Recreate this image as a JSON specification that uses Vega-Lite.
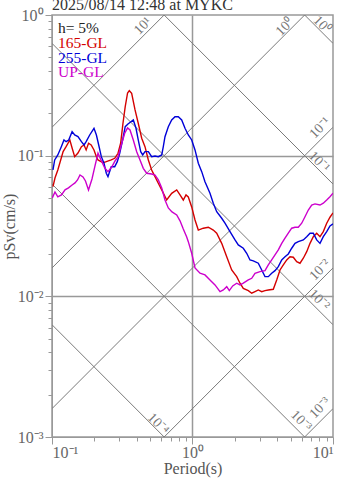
{
"$schema": "https://vega.github.io/schema/vega-lite/v6.json",
"width": 281, "height": 422,
"autosize": "none",
"padding": {"left": 52, "top": 15, "right": 14, "bottom": 41},
"title": {"text": "2025/08/14 12:48 at MYKC", "anchor": "start", "frame": "group", "fontSize": 16, "font": "Liberation Serif", "fontWeight": "normal", "color": "#333333", "offset": 0, "baseline": "alphabetic", "dy": 19},
"config": {
  "font": "Liberation Serif",
  "view": {"stroke": "#999999", "strokeWidth": 1.5},
  "axis": {"domainColor": "#999999", "tickColor": "#999999", "labelColor": "#666666", "titleColor": "#555555", "labelFont": "Liberation Serif", "titleFont": "Liberation Serif", "titleFontWeight": "normal", "labelFontSize": 16, "titleFontSize": 16, "labelOverlap": false, "labelBound": false}
},
"datasets": {
  "diag": [
    {"id": "SA10", "T": 0.1, "Sv": 0.15915}, {"id": "SA10", "T": 10, "Sv": 15.915},
    {"id": "SA1", "T": 0.1, "Sv": 0.015915}, {"id": "SA1", "T": 10, "Sv": 1.5915},
    {"id": "SA0.1", "T": 0.1, "Sv": 0.0015915}, {"id": "SA0.1", "T": 10, "Sv": 0.15915},
    {"id": "SA0.01", "T": 0.1, "Sv": 0.00015915}, {"id": "SA0.01", "T": 10, "Sv": 0.015915},
    {"id": "SA0.001", "T": 0.1, "Sv": 0.000015915}, {"id": "SA0.001", "T": 10, "Sv": 0.0015915},
    {"id": "SD1", "T": 0.1, "Sv": 62.832}, {"id": "SD1", "T": 10, "Sv": 0.62832},
    {"id": "SD0.1", "T": 0.1, "Sv": 6.2832}, {"id": "SD0.1", "T": 10, "Sv": 0.062832},
    {"id": "SD0.01", "T": 0.1, "Sv": 0.62832}, {"id": "SD0.01", "T": 10, "Sv": 0.0062832},
    {"id": "SD0.001", "T": 0.1, "Sv": 0.062832}, {"id": "SD0.001", "T": 10, "Sv": 0.00062832},
    {"id": "SD0.0001", "T": 0.1, "Sv": 0.0062832}, {"id": "SD0.0001", "T": 10, "Sv": 0.000062832}
  ],
  "lab": [
    {"fam": "SA", "t": "10¹", "T": 0.444, "Sv": 0.835},
    {"fam": "SA", "t": "10⁰", "T": 4.553, "Sv": 0.822},
    {"fam": "SA", "t": "10⁻¹", "T": 8.081, "Sv": 0.1574},
    {"fam": "SA", "t": "10⁻²", "T": 8.081, "Sv": 0.0154},
    {"fam": "SA", "t": "10⁻³", "T": 8.081, "Sv": 0.00161},
    {"fam": "SD", "t": "10⁰", "T": 8.35, "Sv": 0.849},
    {"fam": "SD", "t": "10⁻¹", "T": 7.95, "Sv": 0.0902},
    {"fam": "SD", "t": "10⁻²", "T": 7.95, "Sv": 0.00943},
    {"fam": "SD", "t": "10⁻³", "T": 5.919, "Sv": 0.0013},
    {"fam": "SD", "t": "10⁻⁴", "T": 0.568, "Sv": 0.00124}
  ],
  "leg": [
    {"c": "h", "t": "h= 5%", "T": 0.1103, "Sv": 0.745},
    {"c": "165-GL", "t": "165-GL", "T": 0.1103, "Sv": 0.5857},
    {"c": "255-GL", "t": "255-GL", "T": 0.1103, "Sv": 0.4536},
    {"c": "UP-GL", "t": "UP-GL", "T": 0.1103, "Sv": 0.3607}
  ],
  "spec": [
    {"c":"165-GL","T":0.1016,"Sv":0.0602},{"c":"165-GL","T":0.105,"Sv":0.0694},{"c":"165-GL","T":0.110,"Sv":0.0791},{"c":"165-GL","T":0.120,"Sv":0.1068},{"c":"165-GL","T":0.126,"Sv":0.1159},{"c":"165-GL","T":0.134,"Sv":0.1293},{"c":"165-GL","T":0.139,"Sv":0.1134},{"c":"165-GL","T":0.145,"Sv":0.0984},{"c":"165-GL","T":0.153,"Sv":0.1045},{"c":"165-GL","T":0.162,"Sv":0.1159},{"c":"165-GL","T":0.169,"Sv":0.1191},{"c":"165-GL","T":0.175,"Sv":0.1098},{"c":"165-GL","T":0.182,"Sv":0.1225},{"c":"165-GL","T":0.190,"Sv":0.1191},{"c":"165-GL","T":0.199,"Sv":0.1098},{"c":"165-GL","T":0.207,"Sv":0.0984},{"c":"165-GL","T":0.2125,"Sv":0.0932},{"c":"165-GL","T":0.231,"Sv":0.0892},{"c":"165-GL","T":0.2435,"Sv":0.0906},{"c":"165-GL","T":0.264,"Sv":0.0932},{"c":"165-GL","T":0.2795,"Sv":0.0958},{"c":"165-GL","T":0.295,"Sv":0.1040},{"c":"165-GL","T":0.308,"Sv":0.1225},{"c":"165-GL","T":0.320,"Sv":0.1699},{"c":"165-GL","T":0.332,"Sv":0.2230},{"c":"165-GL","T":0.345,"Sv":0.2790},{"c":"165-GL","T":0.355,"Sv":0.2897},{"c":"165-GL","T":0.369,"Sv":0.2777},{"c":"165-GL","T":0.390,"Sv":0.2113},{"c":"165-GL","T":0.411,"Sv":0.1699},{"c":"165-GL","T":0.435,"Sv":0.1330},{"c":"165-GL","T":0.459,"Sv":0.1159},{"c":"165-GL","T":0.485,"Sv":0.0932},{"c":"165-GL","T":0.512,"Sv":0.0791},{"c":"165-GL","T":0.541,"Sv":0.0709},{"c":"165-GL","T":0.571,"Sv":0.0637},{"c":"165-GL","T":0.604,"Sv":0.0571},{"c":"165-GL","T":0.655,"Sv":0.0484},{"c":"165-GL","T":0.711,"Sv":0.0540},{"c":"165-GL","T":0.772,"Sv":0.0571},{"c":"165-GL","T":0.815,"Sv":0.0526},{"c":"165-GL","T":0.860,"Sv":0.0484},{"c":"165-GL","T":0.899,"Sv":0.0526},{"c":"165-GL","T":0.9335,"Sv":0.0509},{"c":"165-GL","T":0.987,"Sv":0.0432},{"c":"165-GL","T":1.042,"Sv":0.0349},{"c":"165-GL","T":1.100,"Sv":0.0296},{"c":"165-GL","T":1.194,"Sv":0.0305},{"c":"165-GL","T":1.296,"Sv":0.0310},{"c":"165-GL","T":1.406,"Sv":0.0296},{"c":"165-GL","T":1.487,"Sv":0.0281},{"c":"165-GL","T":1.614,"Sv":0.0238},{"c":"165-GL","T":1.752,"Sv":0.0191},{"c":"165-GL","T":1.901,"Sv":0.0154},{"c":"165-GL","T":2.064,"Sv":0.0138},{"c":"165-GL","T":2.178,"Sv":0.0124},{"c":"165-GL","T":2.299,"Sv":0.0114},{"c":"165-GL","T":2.496,"Sv":0.01098},{"c":"165-GL","T":2.639,"Sv":0.01052},{"c":"165-GL","T":2.785,"Sv":0.0108},{"c":"165-GL","T":2.940,"Sv":0.0111},{"c":"165-GL","T":3.109,"Sv":0.0108},{"c":"165-GL","T":3.281,"Sv":0.01098},{"c":"165-GL","T":3.464,"Sv":0.0111},{"c":"165-GL","T":3.759,"Sv":0.01123},{"c":"165-GL","T":3.974,"Sv":0.01308},{"c":"165-GL","T":4.196,"Sv":0.0154},{"c":"165-GL","T":4.430,"Sv":0.01672},{"c":"165-GL","T":4.684,"Sv":0.01814},{"c":"165-GL","T":4.943,"Sv":0.0191},{"c":"165-GL","T":5.217,"Sv":0.01896},{"c":"165-GL","T":5.516,"Sv":0.01764},{"c":"165-GL","T":5.823,"Sv":0.01719},{"c":"165-GL","T":6.147,"Sv":0.01866},{"c":"165-GL","T":6.500,"Sv":0.02078},{"c":"165-GL","T":6.861,"Sv":0.0238},{"c":"165-GL","T":7.242,"Sv":0.02656},{"c":"165-GL","T":7.656,"Sv":0.0281},{"c":"165-GL","T":8.081,"Sv":0.02656},{"c":"165-GL","T":8.531,"Sv":0.02884},{"c":"165-GL","T":9.020,"Sv":0.0331},{"c":"165-GL","T":9.519,"Sv":0.0365},{"c":"165-GL","T":10.0,"Sv":0.0392},
    {"c":"255-GL","T":0.1016,"Sv":0.0791},{"c":"255-GL","T":0.1045,"Sv":0.0932},{"c":"255-GL","T":0.110,"Sv":0.1012},{"c":"255-GL","T":0.1165,"Sv":0.1159},{"c":"255-GL","T":0.1217,"Sv":0.1293},{"c":"255-GL","T":0.126,"Sv":0.1257},{"c":"255-GL","T":0.1315,"Sv":0.1293},{"c":"255-GL","T":0.139,"Sv":0.1481},{"c":"255-GL","T":0.145,"Sv":0.1403},{"c":"255-GL","T":0.153,"Sv":0.1365},{"c":"255-GL","T":0.162,"Sv":0.1257},{"c":"255-GL","T":0.169,"Sv":0.1191},{"c":"255-GL","T":0.175,"Sv":0.1257},{"c":"255-GL","T":0.1855,"Sv":0.1403},{"c":"255-GL","T":0.199,"Sv":0.1566},{"c":"255-GL","T":0.207,"Sv":0.1403},{"c":"255-GL","T":0.215,"Sv":0.1191},{"c":"255-GL","T":0.2244,"Sv":0.0984},{"c":"255-GL","T":0.2345,"Sv":0.0883},{"c":"255-GL","T":0.2435,"Sv":0.0750},{"c":"255-GL","T":0.2503,"Sv":0.0709},{"c":"255-GL","T":0.264,"Sv":0.0835},{"c":"255-GL","T":0.2795,"Sv":0.0835},{"c":"255-GL","T":0.2916,"Sv":0.0906},{"c":"255-GL","T":0.3033,"Sv":0.1040},{"c":"255-GL","T":0.320,"Sv":0.1330},{"c":"255-GL","T":0.332,"Sv":0.1607},{"c":"255-GL","T":0.3474,"Sv":0.1680},{"c":"255-GL","T":0.379,"Sv":0.1794},{"c":"255-GL","T":0.3962,"Sv":0.1566},{"c":"255-GL","T":0.411,"Sv":0.1293},{"c":"255-GL","T":0.4279,"Sv":0.1068},{"c":"255-GL","T":0.4422,"Sv":0.1012},{"c":"255-GL","T":0.459,"Sv":0.1068},{"c":"255-GL","T":0.485,"Sv":0.1068},{"c":"255-GL","T":0.512,"Sv":0.0984},{"c":"255-GL","T":0.541,"Sv":0.0995},{"c":"255-GL","T":0.571,"Sv":0.0984},{"c":"255-GL","T":0.604,"Sv":0.1012},{"c":"255-GL","T":0.6197,"Sv":0.1159},{"c":"255-GL","T":0.637,"Sv":0.1365},{"c":"255-GL","T":0.6727,"Sv":0.1607},{"c":"255-GL","T":0.711,"Sv":0.1794},{"c":"255-GL","T":0.7507,"Sv":0.1893},{"c":"255-GL","T":0.7924,"Sv":0.1893},{"c":"255-GL","T":0.8378,"Sv":0.1794},{"c":"255-GL","T":0.8844,"Sv":0.1566},{"c":"255-GL","T":0.9335,"Sv":0.1403},{"c":"255-GL","T":0.987,"Sv":0.1293},{"c":"255-GL","T":1.042,"Sv":0.1098},{"c":"255-GL","T":1.100,"Sv":0.0883},{"c":"255-GL","T":1.163,"Sv":0.0770},{"c":"255-GL","T":1.227,"Sv":0.0653},{"c":"255-GL","T":1.332,"Sv":0.0540},{"c":"255-GL","T":1.406,"Sv":0.0459},{"c":"255-GL","T":1.487,"Sv":0.0400},{"c":"255-GL","T":1.614,"Sv":0.0359},{"c":"255-GL","T":1.703,"Sv":0.0331},{"c":"255-GL","T":1.849,"Sv":0.02884},{"c":"255-GL","T":2.007,"Sv":0.02518},{"c":"255-GL","T":2.118,"Sv":0.02319},{"c":"255-GL","T":2.299,"Sv":0.02197},{"c":"255-GL","T":2.431,"Sv":0.02024},{"c":"255-GL","T":2.566,"Sv":0.01814},{"c":"255-GL","T":2.708,"Sv":0.01785},{"c":"255-GL","T":2.940,"Sv":0.01719},{"c":"255-GL","T":3.109,"Sv":0.0154},{"c":"255-GL","T":3.281,"Sv":0.0138},{"c":"255-GL","T":3.464,"Sv":0.0138},{"c":"255-GL","T":3.661,"Sv":0.01459},{"c":"255-GL","T":3.865,"Sv":0.01523},{"c":"255-GL","T":4.081,"Sv":0.01626},{"c":"255-GL","T":4.315,"Sv":0.01814},{"c":"255-GL","T":4.553,"Sv":0.0191},{"c":"255-GL","T":4.806,"Sv":0.02001},{"c":"255-GL","T":5.082,"Sv":0.02197},{"c":"255-GL","T":5.364,"Sv":0.0238},{"c":"255-GL","T":5.662,"Sv":0.02447},{"c":"255-GL","T":6.147,"Sv":0.02518},{"c":"255-GL","T":6.500,"Sv":0.02656},{"c":"255-GL","T":6.861,"Sv":0.0281},{"c":"255-GL","T":7.242,"Sv":0.0281},{"c":"255-GL","T":7.656,"Sv":0.02518},{"c":"255-GL","T":8.081,"Sv":0.0238},{"c":"255-GL","T":8.531,"Sv":0.02656},{"c":"255-GL","T":9.020,"Sv":0.02884},{"c":"255-GL","T":9.519,"Sv":0.03166},{"c":"255-GL","T":10.0,"Sv":0.0327},
    {"c":"UP-GL","T":0.1005,"Sv":0.0501},{"c":"UP-GL","T":0.105,"Sv":0.0552},{"c":"UP-GL","T":0.110,"Sv":0.0509},{"c":"UP-GL","T":0.1168,"Sv":0.0526},{"c":"UP-GL","T":0.1238,"Sv":0.0571},{"c":"UP-GL","T":0.131,"Sv":0.0590},{"c":"UP-GL","T":0.139,"Sv":0.0619},{"c":"UP-GL","T":0.1458,"Sv":0.0640},{"c":"UP-GL","T":0.1519,"Sv":0.0672},{"c":"UP-GL","T":0.1582,"Sv":0.0729},{"c":"UP-GL","T":0.1662,"Sv":0.0706},{"c":"UP-GL","T":0.1731,"Sv":0.0661},{"c":"UP-GL","T":0.1819,"Sv":0.0571},{"c":"UP-GL","T":0.1926,"Sv":0.0683},{"c":"UP-GL","T":0.2023,"Sv":0.0845},{"c":"UP-GL","T":0.2125,"Sv":0.1040},{"c":"UP-GL","T":0.2233,"Sv":0.0932},{"c":"UP-GL","T":0.2372,"Sv":0.0818},{"c":"UP-GL","T":0.2503,"Sv":0.0770},{"c":"UP-GL","T":0.2673,"Sv":0.0835},{"c":"UP-GL","T":0.2808,"Sv":0.0917},{"c":"UP-GL","T":0.295,"Sv":0.0979},{"c":"UP-GL","T":0.3113,"Sv":0.1191},{"c":"UP-GL","T":0.3292,"Sv":0.1443},{"c":"UP-GL","T":0.345,"Sv":0.1574},{"c":"UP-GL","T":0.3591,"Sv":0.1523},{"c":"UP-GL","T":0.379,"Sv":0.1293},{"c":"UP-GL","T":0.4007,"Sv":0.1068},{"c":"UP-GL","T":0.423,"Sv":0.0932},{"c":"UP-GL","T":0.4465,"Sv":0.0813},{"c":"UP-GL","T":0.4721,"Sv":0.0750},{"c":"UP-GL","T":0.512,"Sv":0.0741},{"c":"UP-GL","T":0.541,"Sv":0.0729},{"c":"UP-GL","T":0.571,"Sv":0.0672},{"c":"UP-GL","T":0.604,"Sv":0.0590},{"c":"UP-GL","T":0.637,"Sv":0.0484},{"c":"UP-GL","T":0.6727,"Sv":0.0425},{"c":"UP-GL","T":0.7147,"Sv":0.0398},{"c":"UP-GL","T":0.772,"Sv":0.0379},{"c":"UP-GL","T":0.815,"Sv":0.0344},{"c":"UP-GL","T":0.860,"Sv":0.0301},{"c":"UP-GL","T":0.9094,"Sv":0.02643},{"c":"UP-GL","T":0.9335,"Sv":0.02447},{"c":"UP-GL","T":0.987,"Sv":0.02024},{"c":"UP-GL","T":1.042,"Sv":0.01591},{"c":"UP-GL","T":1.131,"Sv":0.01459},{"c":"UP-GL","T":1.227,"Sv":0.01419},{"c":"UP-GL","T":1.332,"Sv":0.01308},{"c":"UP-GL","T":1.446,"Sv":0.01205},{"c":"UP-GL","T":1.570,"Sv":0.0108},{"c":"UP-GL","T":1.657,"Sv":0.0111},{"c":"UP-GL","T":1.752,"Sv":0.01172},{"c":"UP-GL","T":1.828,"Sv":0.01098},{"c":"UP-GL","T":1.932,"Sv":0.01186},{"c":"UP-GL","T":2.064,"Sv":0.0124},{"c":"UP-GL","T":2.178,"Sv":0.01205},{"c":"UP-GL","T":2.299,"Sv":0.0124},{"c":"UP-GL","T":2.496,"Sv":0.01308},{"c":"UP-GL","T":2.639,"Sv":0.01344},{"c":"UP-GL","T":2.785,"Sv":0.01459},{"c":"UP-GL","T":3.023,"Sv":0.01498},{"c":"UP-GL","T":3.281,"Sv":0.01523},{"c":"UP-GL","T":3.464,"Sv":0.01672},{"c":"UP-GL","T":3.661,"Sv":0.01814},{"c":"UP-GL","T":3.865,"Sv":0.01969},{"c":"UP-GL","T":4.081,"Sv":0.02137},{"c":"UP-GL","T":4.315,"Sv":0.0238},{"c":"UP-GL","T":4.553,"Sv":0.02588},{"c":"UP-GL","T":4.806,"Sv":0.0281},{"c":"UP-GL","T":5.082,"Sv":0.0305},{"c":"UP-GL","T":5.364,"Sv":0.0310},{"c":"UP-GL","T":5.662,"Sv":0.0310},{"c":"UP-GL","T":5.988,"Sv":0.0331},{"c":"UP-GL","T":6.319,"Sv":0.0368},{"c":"UP-GL","T":6.672,"Sv":0.0411},{"c":"UP-GL","T":7.054,"Sv":0.0446},{"c":"UP-GL","T":7.445,"Sv":0.0454},{"c":"UP-GL","T":8.081,"Sv":0.0446},{"c":"UP-GL","T":8.531,"Sv":0.0459},{"c":"UP-GL","T":9.020,"Sv":0.0484},{"c":"UP-GL","T":9.519,"Sv":0.0511},{"c":"UP-GL","T":10.0,"Sv":0.0540}
  ]
},
"encoding": {
  "x": {"field": "T", "type": "quantitative",
    "scale": {"type": "log", "domain": [0.1, 10], "nice": false},
    "axis": {
      "values": [0.1,0.2,0.3,0.4,0.5,0.6,0.7,0.8,0.9,1,2,3,4,5,6,7,8,9,10],
      "labelExpr": "datum.value==0.1?'10⁻¹':datum.value==1?'10⁰':datum.value==10?'10¹':''",
      "grid": true,
      "gridOpacity": {"condition": {"test": "datum.value==1", "value": 1}, "value": 0},
      "gridColor": "#999999", "gridWidth": 1.5,
      "tickSize": {"condition": {"test": "datum.value==0.1||datum.value==1||datum.value==10", "value": 7}, "value": 4},
      "labelPadding": 0,
      "title": "Period(s)", "titlePadding": 0
    }},
  "y": {"field": "Sv", "type": "quantitative",
    "scale": {"type": "log", "domain": [0.001, 1], "nice": false},
    "axis": {
      "values": [0.001,0.002,0.003,0.004,0.005,0.006,0.007,0.008,0.009,0.01,0.02,0.03,0.04,0.05,0.06,0.07,0.08,0.09,0.1,0.2,0.3,0.4,0.5,0.6,0.7,0.8,0.9,1],
      "labelExpr": "datum.value==1?'10⁰':datum.value==0.1?'10⁻¹':datum.value==0.01?'10⁻²':datum.value==0.001?'10⁻³':''",
      "grid": true,
      "gridOpacity": {"condition": {"test": "datum.value==0.1||datum.value==0.01", "value": 1}, "value": 0},
      "gridColor": "#999999", "gridWidth": 1.5,
      "tickSize": {"condition": {"test": "datum.value==1||datum.value==0.1||datum.value==0.01||datum.value==0.001", "value": 7}, "value": 4},
      "labelPadding": 2,
      "title": "pSv(cm/s)", "titlePadding": 0
    }}
},
"layer": [
  {"data": {"name": "diag"}, "mark": {"type": "line", "clip": true, "color": "#7a7a7a", "strokeWidth": 1},
   "encoding": {"detail": {"field": "id"}}},
  {"data": {"name": "spec"}, "mark": {"type": "line", "clip": true, "strokeWidth": 1.4},
   "encoding": {"color": {"field": "c", "type": "nominal", "scale": {"domain": ["h", "165-GL", "255-GL", "UP-GL"], "range": ["#222222", "#d40000", "#0000d8", "#cc00cc"]}, "legend": null}}},
  {"data": {"name": "leg"}, "mark": {"type": "text", "align": "left", "baseline": "alphabetic", "fontSize": 15.5, "font": "Liberation Serif"},
   "encoding": {"text": {"field": "t"}, "color": {"field": "c", "type": "nominal", "legend": null}}},
  {"data": {"name": "lab"}, "transform": [{"filter": "datum.fam=='SA'"}],
   "mark": {"type": "text", "angle": -45, "align": "center", "baseline": "middle", "fontSize": 14, "color": "#777777", "font": "Liberation Serif"},
   "encoding": {"text": {"field": "t"}}},
  {"data": {"name": "lab"}, "transform": [{"filter": "datum.fam=='SD'"}],
   "mark": {"type": "text", "angle": 45, "align": "center", "baseline": "middle", "fontSize": 14, "color": "#777777", "font": "Liberation Serif"},
   "encoding": {"text": {"field": "t"}}}
]
}
